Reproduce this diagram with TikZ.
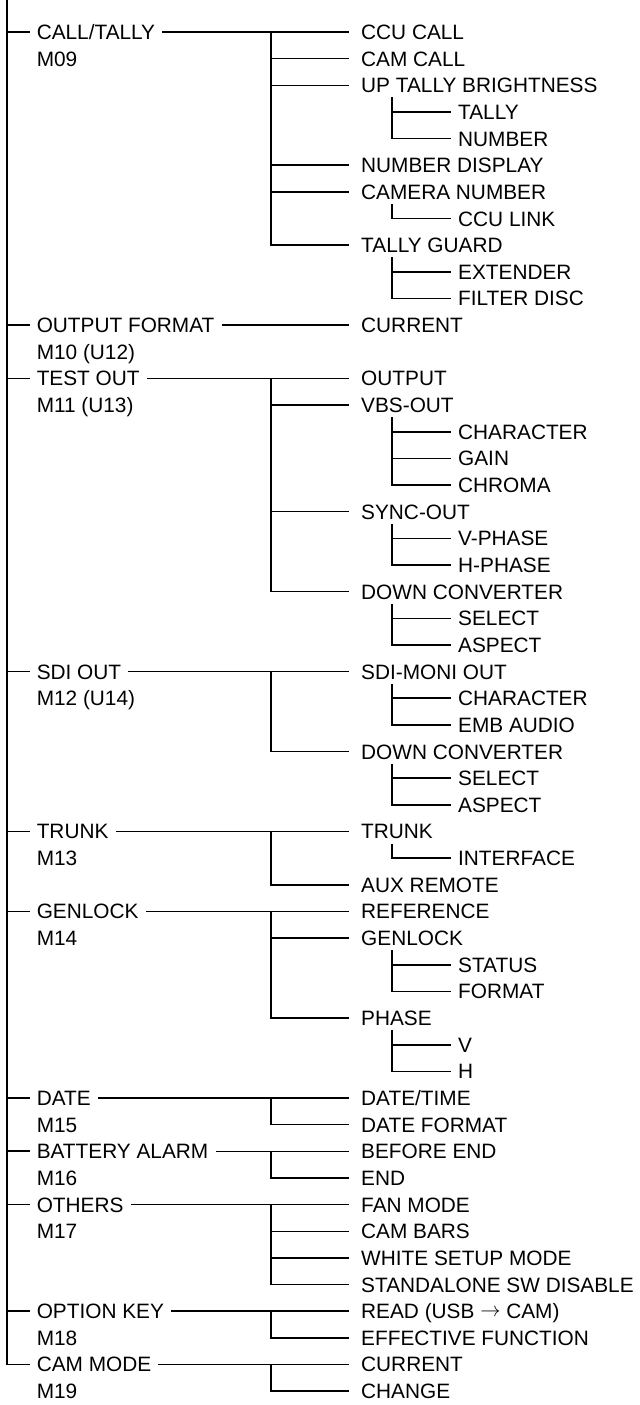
\documentclass[tikz,border=0pt]{standalone}
\usepackage{fontspec}
\setmainfont{Liberation Sans}
\tikzset{
  item/.style={anchor=west, inner sep=0pt, text height=10.6pt, text depth=0pt,
    font=\fontsize{14.8pt}{17pt}\selectfont},
  trunk/.style={line width=1.2pt},
  stem/.style={line width=1.1pt, shorten <=0.175cm, shorten >=0.3cm},
  twig/.style={line width=1.1pt, shorten >=0.3cm},
  leaf/.style={line width=1.1pt, shorten >=0.175cm},
}
\begin{document}
\begin{tikzpicture}[x=0.025cm, y=-0.66625cm]
\useasboundingbox (0,-0.2008) rectangle (640,52.519);
\node[item] (calltally) at (36.5,1) {CALL/TALLY};
\node[item] (m09) at (36.5,2) {M09};
\node[item] (outfmt) at (36.5,12) {OUTPUT FORMAT};
\node[item] (m10) at (36.5,13) {M10 (U12)};
\node[item] (testout) at (36.5,14) {TEST OUT};
\node[item] (m11) at (36.5,15) {M11 (U13)};
\node[item] (sdiout) at (36.5,25) {SDI OUT};
\node[item] (m12) at (36.5,26) {M12 (U14)};
\node[item] (trunk) at (36.5,31) {TRUNK};
\node[item] (m13) at (36.5,32) {M13};
\node[item] (genlock) at (36.5,34) {GENLOCK};
\node[item] (m14) at (36.5,35) {M14};
\node[item] (date) at (36.5,41) {DATE};
\node[item] (m15) at (36.5,42) {M15};
\node[item] (battery) at (36.5,43) {BATTERY ALARM};
\node[item] (m16) at (36.5,44) {M16};
\node[item] (others) at (36.5,45) {OTHERS};
\node[item] (m17) at (36.5,46) {M17};
\node[item] (optkey) at (36.5,49) {OPTION KEY};
\node[item] (m18) at (36.5,50) {M18};
\node[item] (cammode) at (36.5,51) {CAM MODE};
\node[item] (m19) at (36.5,52) {M19};
\node[item] (ccucall) at (361,1) {CCU CALL};
\node[item] (camcall) at (361,2) {CAM CALL};
\node[item] (uptally) at (361,3) {UP TALLY BRIGHTNESS};
\node[item] (numdisp) at (361,6) {NUMBER DISPLAY};
\node[item] (camnum) at (361,7) {CAMERA NUMBER};
\node[item] (tallyguard) at (361,9) {TALLY GUARD};
\node[item] (curfmt) at (361,12) {CURRENT};
\node[item] (output) at (361,14) {OUTPUT};
\node[item] (vbsout) at (361,15) {VBS-OUT};
\node[item] (syncout) at (361,19) {SYNC-OUT};
\node[item] (downconv) at (361,22) {DOWN CONVERTER};
\node[item] (sdimoni) at (361,25) {SDI-MONI OUT};
\node[item] (sdidown) at (361,28) {DOWN CONVERTER};
\node[item] (trunksub) at (361,31) {TRUNK};
\node[item] (auxremote) at (361,33) {AUX REMOTE};
\node[item] (reference) at (361,34) {REFERENCE};
\node[item] (genlocksub) at (361,35) {GENLOCK};
\node[item] (phase) at (361,38) {PHASE};
\node[item] (datetime) at (361,41) {DATE/TIME};
\node[item] (datefmt) at (361,42) {DATE FORMAT};
\node[item] (beforeend) at (361,43) {BEFORE END};
\node[item] (endalarm) at (361,44) {END};
\node[item] (fanmode) at (361,45) {FAN MODE};
\node[item] (cambars) at (361,46) {CAM BARS};
\node[item] (whitesetup) at (361,47) {WHITE SETUP MODE};
\node[item] (standalone) at (361,48) {STANDALONE SW DISABLE};
\node[item] (readusb) at (361,49) {READ (USB \raisebox{1.5pt}{$\rightarrow$} CAM)};
\node[item] (efffunc) at (361,50) {EFFECTIVE FUNCTION};
\node[item] (curmode) at (361,51) {CURRENT};
\node[item] (change) at (361,52) {CHANGE};
\node[item] (tally) at (458,4) {TALLY};
\node[item] (number) at (458,5) {NUMBER};
\node[item] (cculink) at (458,8) {CCU LINK};
\node[item] (extender) at (458,10) {EXTENDER};
\node[item] (filterdisc) at (458,11) {FILTER DISC};
\node[item] (vbschar) at (458,16) {CHARACTER};
\node[item] (gain) at (458,17) {GAIN};
\node[item] (chroma) at (458,18) {CHROMA};
\node[item] (vphase) at (458,20) {V-PHASE};
\node[item] (hphase) at (458,21) {H-PHASE};
\node[item] (select) at (458,23) {SELECT};
\node[item] (aspect) at (458,24) {ASPECT};
\node[item] (sdichar) at (458,26) {CHARACTER};
\node[item] (embaudio) at (458,27) {EMB AUDIO};
\node[item] (sdiselect) at (458,29) {SELECT};
\node[item] (sdiaspect) at (458,30) {ASPECT};
\node[item] (interface) at (458,32) {INTERFACE};
\node[item] (status) at (458,36) {STATUS};
\node[item] (format) at (458,37) {FORMAT};
\node[item] (phv) at (458,39) {V};
\node[item] (phh) at (458,40) {H};
% main line
\coordinate (top) at (7.3,-0.2008);
\draw[trunk] (top) |- ([xshift=-0.16cm]cammode.west);
\foreach \n in {calltally,outfmt,testout,sdiout,trunk,genlock,date,battery,others,optkey}
  \draw[trunk] (\n.west -| top) -- ([xshift=-0.16cm]\n.west);
% menu to first item
\foreach \a/\b in {calltally/ccucall,outfmt/curfmt,testout/output,sdiout/sdimoni,trunk/trunksub,
    genlock/reference,date/datetime,battery/beforeend,others/fanmode,optkey/readusb,cammode/curmode}
  \draw[stem] (\a.east) -- (\b.west);
% second level
\foreach \a/\b in {ccucall/tallyguard,output/downconv,sdimoni/sdidown,trunksub/auxremote,
    reference/phase,datetime/datefmt,beforeend/endalarm,fanmode/standalone,readusb/efffunc,curmode/change}
  \draw[twig] ([xshift=-2.25cm]\a.west) |- (\b.west);
\foreach \n in {camcall,uptally,numdisp,camnum,vbsout,syncout,genlocksub,cambars,whitesetup}
  \draw[twig] ([xshift=-2.25cm]\n.west) -- (\n.west);
% third level
\foreach \a/\b/\c in {uptally/tally/number,camnum/cculink/cculink,tallyguard/extender/filterdisc,
    vbsout/vbschar/chroma,syncout/vphase/hphase,downconv/select/aspect,sdimoni/sdichar/embaudio,
    sdidown/sdiselect/sdiaspect,trunksub/interface/interface,genlocksub/status/format,phase/phv/phh}
  \draw[leaf] ([xshift=-1.65cm,yshift=-0.11cm]\b.west |- \a.south) |- (\c.west);
\foreach \n in {tally,extender,vbschar,gain,vphase,select,sdichar,sdiselect,status,phv}
  \draw[leaf] ([xshift=-1.65cm]\n.west) -- (\n.west);
\end{tikzpicture}
\end{document}
